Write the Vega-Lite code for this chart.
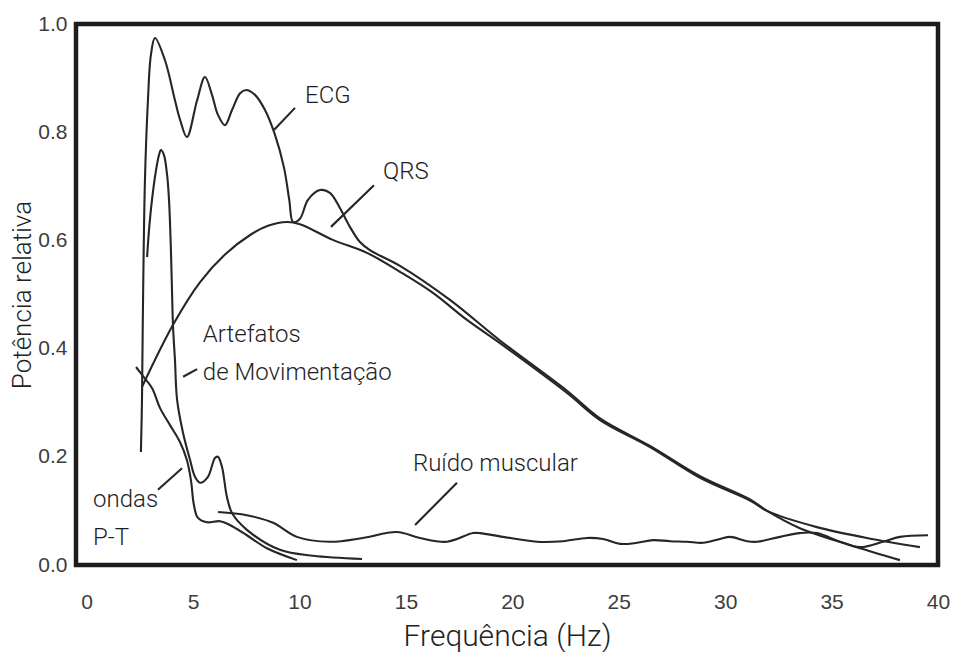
{
  "$schema": "https://vega.github.io/schema/vega-lite/v6.json",
  "width": 862,
  "height": 541,
  "autosize": "none",
  "padding": {"left": 76, "top": 24, "right": 21, "bottom": 87},
  "background": "white",
  "config": {
    "view": {"stroke": "#1c1c1c", "strokeWidth": 4.5},
    "axis": {"grid": false, "ticks": false, "domain": false, "labelFlush": false}
  },
  "datasets": {
    "curves": [
      {"s":"ECG","f":2.55,"p":0.209},{"s":"ECG","f":2.60,"p":0.305},{"s":"ECG","f":2.65,"p":0.490},{"s":"ECG","f":2.74,"p":0.712},{"s":"ECG","f":2.88,"p":0.859},{"s":"ECG","f":3.02,"p":0.943},{"s":"ECG","f":3.21,"p":0.974},{"s":"ECG","f":3.68,"p":0.933},{"s":"ECG","f":4.15,"p":0.859},{"s":"ECG","f":4.39,"p":0.823},{"s":"ECG","f":4.71,"p":0.791},{"s":"ECG","f":5.19,"p":0.859},{"s":"ECG","f":5.56,"p":0.902},{"s":"ECG","f":5.89,"p":0.869},{"s":"ECG","f":6.17,"p":0.832},{"s":"ECG","f":6.50,"p":0.813},{"s":"ECG","f":6.83,"p":0.841},{"s":"ECG","f":7.21,"p":0.872},{"s":"ECG","f":7.49,"p":0.878},{"s":"ECG","f":7.91,"p":0.869},{"s":"ECG","f":8.38,"p":0.841},{"s":"ECG","f":8.85,"p":0.795},{"s":"ECG","f":9.27,"p":0.735},{"s":"ECG","f":9.52,"p":0.675},{"s":"ECG","f":9.70,"p":0.634},{"s":"ECG","f":10.02,"p":0.640},{"s":"ECG","f":10.40,"p":0.675},{"s":"ECG","f":10.96,"p":0.693},{"s":"ECG","f":11.43,"p":0.688},{"s":"ECG","f":11.90,"p":0.660},{"s":"ECG","f":12.37,"p":0.625},{"s":"ECG","f":12.84,"p":0.597},{"s":"ECG","f":13.31,"p":0.582},{"s":"ECG","f":14.72,"p":0.553},{"s":"ECG","f":17.07,"p":0.490},{"s":"ECG","f":19.42,"p":0.415},{"s":"ECG","f":22.57,"p":0.322},{"s":"ECG","f":24.12,"p":0.271},{"s":"ECG","f":26.47,"p":0.220},{"s":"ECG","f":28.82,"p":0.164},{"s":"ECG","f":31.17,"p":0.121},{"s":"ECG","f":31.97,"p":0.100},{"s":"ECG","f":33.51,"p":0.068},{"s":"ECG","f":35.86,"p":0.037},{"s":"ECG","f":38.21,"p":0.009},
      {"s":"QRS","f":2.60,"p":0.329},{"s":"QRS","f":4.06,"p":0.444},{"s":"QRS","f":5.33,"p":0.523},{"s":"QRS","f":6.50,"p":0.574},{"s":"QRS","f":7.68,"p":0.610},{"s":"QRS","f":8.52,"p":0.627},{"s":"QRS","f":9.41,"p":0.634},{"s":"QRS","f":10.02,"p":0.630},{"s":"QRS","f":11.57,"p":0.601},{"s":"QRS","f":13.17,"p":0.577},{"s":"QRS","f":14.72,"p":0.542},{"s":"QRS","f":16.27,"p":0.503},{"s":"QRS","f":17.87,"p":0.453},{"s":"QRS","f":19.42,"p":0.410},{"s":"QRS","f":22.57,"p":0.318},{"s":"QRS","f":24.12,"p":0.268},{"s":"QRS","f":26.47,"p":0.218},{"s":"QRS","f":28.82,"p":0.161},{"s":"QRS","f":31.17,"p":0.119},{"s":"QRS","f":31.97,"p":0.100},{"s":"QRS","f":34.31,"p":0.070},{"s":"QRS","f":36.66,"p":0.050},{"s":"QRS","f":39.15,"p":0.033},
      {"s":"Art","f":2.84,"p":0.569},{"s":"Art","f":2.93,"p":0.619},{"s":"Art","f":3.07,"p":0.675},{"s":"Art","f":3.26,"p":0.730},{"s":"Art","f":3.40,"p":0.758},{"s":"Art","f":3.49,"p":0.767},{"s":"Art","f":3.63,"p":0.758},{"s":"Art","f":3.78,"p":0.721},{"s":"Art","f":3.87,"p":0.675},{"s":"Art","f":3.96,"p":0.582},{"s":"Art","f":4.01,"p":0.508},{"s":"Art","f":4.06,"p":0.440},{"s":"Art","f":4.15,"p":0.379},{"s":"Art","f":4.25,"p":0.305},{"s":"Art","f":4.53,"p":0.244},{"s":"Art","f":4.86,"p":0.194},{"s":"Art","f":5.09,"p":0.163},{"s":"Art","f":5.33,"p":0.152},{"s":"Art","f":5.70,"p":0.163},{"s":"Art","f":6.03,"p":0.198},{"s":"Art","f":6.17,"p":0.200},{"s":"Art","f":6.36,"p":0.181},{"s":"Art","f":6.59,"p":0.126},{"s":"Art","f":6.83,"p":0.096},{"s":"Art","f":7.53,"p":0.065},{"s":"Art","f":9.08,"p":0.028},{"s":"Art","f":10.64,"p":0.017},{"s":"Art","f":12.94,"p":0.011},
      {"s":"PT","f":2.32,"p":0.366},{"s":"PT","f":2.65,"p":0.349},{"s":"PT","f":3.07,"p":0.327},{"s":"PT","f":3.45,"p":0.290},{"s":"PT","f":3.91,"p":0.259},{"s":"PT","f":4.39,"p":0.227},{"s":"PT","f":4.71,"p":0.194},{"s":"PT","f":4.90,"p":0.157},{"s":"PT","f":5.04,"p":0.111},{"s":"PT","f":5.23,"p":0.087},{"s":"PT","f":5.65,"p":0.079},{"s":"PT","f":6.27,"p":0.081},{"s":"PT","f":6.73,"p":0.074},{"s":"PT","f":7.53,"p":0.055},{"s":"PT","f":8.47,"p":0.031},{"s":"PT","f":9.88,"p":0.009},
      {"s":"Mus","f":6.17,"p":0.098},{"s":"Mus","f":7.53,"p":0.092},{"s":"Mus","f":8.76,"p":0.078},{"s":"Mus","f":9.88,"p":0.052},{"s":"Mus","f":11.43,"p":0.043},{"s":"Mus","f":12.98,"p":0.050},{"s":"Mus","f":14.58,"p":0.061},{"s":"Mus","f":15.66,"p":0.050},{"s":"Mus","f":16.93,"p":0.043},{"s":"Mus","f":18.15,"p":0.059},{"s":"Mus","f":18.48,"p":0.059},{"s":"Mus","f":19.56,"p":0.052},{"s":"Mus","f":21.16,"p":0.043},{"s":"Mus","f":22.38,"p":0.044},{"s":"Mus","f":23.51,"p":0.050},{"s":"Mus","f":24.26,"p":0.048},{"s":"Mus","f":25.06,"p":0.039},{"s":"Mus","f":25.86,"p":0.041},{"s":"Mus","f":26.61,"p":0.046},{"s":"Mus","f":27.41,"p":0.044},{"s":"Mus","f":28.21,"p":0.043},{"s":"Mus","f":28.96,"p":0.041},{"s":"Mus","f":29.76,"p":0.048},{"s":"Mus","f":30.23,"p":0.052},{"s":"Mus","f":31.03,"p":0.044},{"s":"Mus","f":31.50,"p":0.043},{"s":"Mus","f":32.58,"p":0.052},{"s":"Mus","f":33.51,"p":0.059},{"s":"Mus","f":34.31,"p":0.059},{"s":"Mus","f":35.39,"p":0.043},{"s":"Mus","f":36.33,"p":0.033},{"s":"Mus","f":37.41,"p":0.043},{"s":"Mus","f":38.21,"p":0.052},{"s":"Mus","f":39.53,"p":0.055}
    ],
    "pointers": [
      {"f1":9.79,"p1":0.845,"f2":8.80,"p2":0.804},
      {"f1":13.50,"p1":0.702,"f2":11.48,"p2":0.625},
      {"f1":4.53,"p1":0.348,"f2":5.19,"p2":0.362},
      {"f1":17.40,"p1":0.152,"f2":15.43,"p2":0.074},
      {"f1":3.35,"p1":0.139,"f2":4.48,"p2":0.179}
    ],
    "labels": [
      {"t":"ECG","f":10.26,"p":0.867},
      {"t":"QRS","f":13.92,"p":0.726},
      {"t":"Artefatos","f":5.46,"p":0.425},
      {"t":"de Movimentação","f":5.46,"p":0.355},
      {"t":"Ruído muscular","f":15.33,"p":0.187},
      {"t":"ondas","f":0.30,"p":0.120},
      {"t":"P-T","f":0.30,"p":0.050}
    ]
  },
  "layer": [
    {
      "data": {"name": "curves"},
      "mark": {"type": "line", "interpolate": "catmull-rom", "stroke": "#262626", "strokeWidth": 2.1},
      "encoding": {
        "x": {"field": "f", "type": "quantitative", "scale": {"domain": [-0.5, 40], "nice": false, "zero": false},
              "axis": {"values": [0,5,10,15,20,25,30,35,40], "title": "Frequência (Hz)", "labelFont": "Liberation Sans", "labelFontSize": 21, "labelColor": "#3d3d3d", "labelPadding": 26, "titleFont": "Roboto", "titleFontSize": 30, "titleFontWeight": 300, "titleColor": "#222", "titlePadding": 9}},
        "y": {"field": "p", "type": "quantitative", "scale": {"domain": [0, 1], "nice": false},
              "axis": {"values": [0,0.2,0.4,0.6,0.8,1.0], "format": ".1f", "title": "Potência relativa", "labelFont": "Liberation Sans", "labelFontSize": 21, "labelColor": "#3d3d3d", "labelPadding": 9, "titleFont": "Roboto", "titleFontSize": 26, "titleFontWeight": 300, "titleColor": "#222", "titlePadding": 2}},
        "detail": {"field": "s", "type": "nominal"}
      }
    },
    {
      "data": {"name": "pointers"},
      "mark": {"type": "rule", "stroke": "#262626", "strokeWidth": 2.1},
      "encoding": {
        "x": {"field": "f1", "type": "quantitative"},
        "y": {"field": "p1", "type": "quantitative"},
        "x2": {"field": "f2"},
        "y2": {"field": "p2"}
      }
    },
    {
      "data": {"name": "labels"},
      "mark": {"type": "text", "align": "left", "baseline": "middle", "font": "Roboto", "fontSize": 24, "fontWeight": 300, "color": "#1e1e1e"},
      "encoding": {
        "x": {"field": "f", "type": "quantitative"},
        "y": {"field": "p", "type": "quantitative"},
        "text": {"field": "t"}
      }
    }
  ]
}
